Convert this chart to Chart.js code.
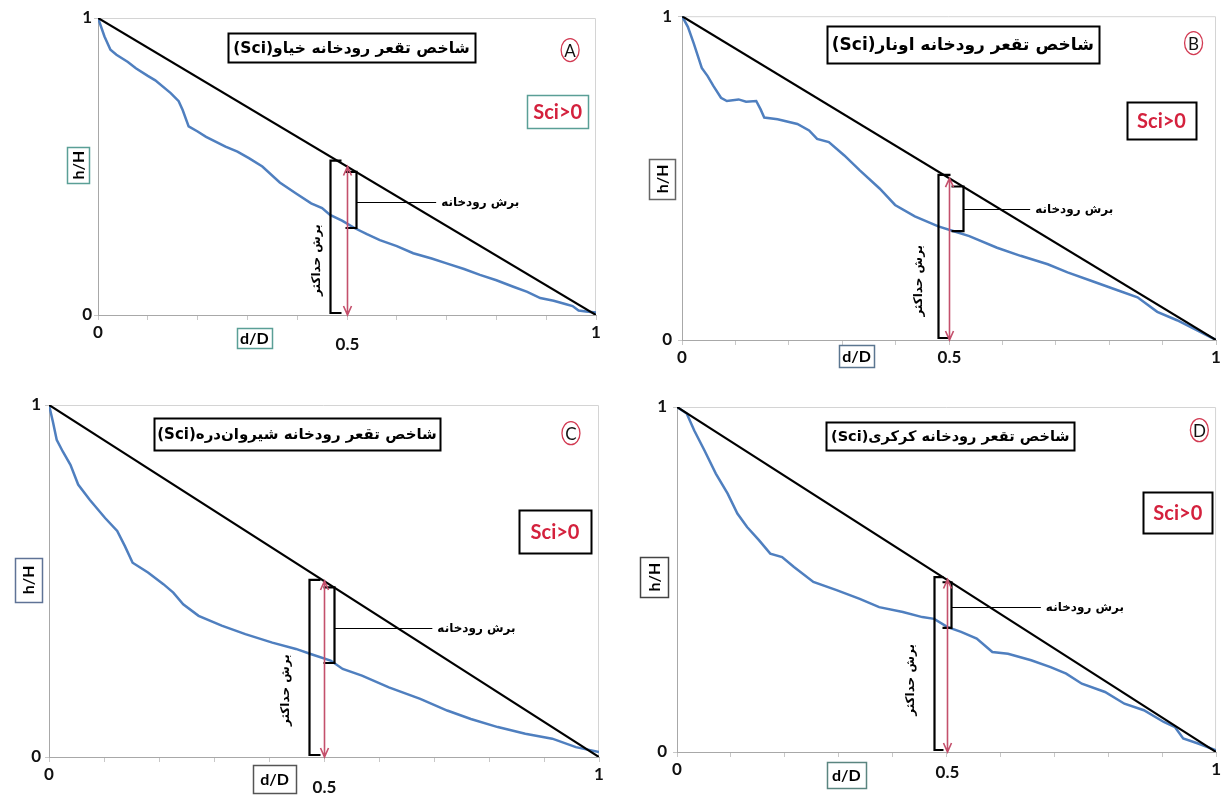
<!DOCTYPE html>
<html lang="fa">
<head>
<meta charset="UTF-8">
<title>شاخص تقعر رودخانه (Sci)</title>
<script src="https://cdn.jsdelivr.net/npm/chart.js"></script>
<style>
  html, body { margin: 0; padding: 0; background: #fff; }
  body { width: 1223px; height: 796px; position: relative; overflow: hidden; }
  .panel { position: absolute; }
</style>
</head>
<body>
<div class="panel" style="left:0;top:0"><canvas id="chartA" width="611" height="390"></canvas></div>
<div class="panel" style="left:611px;top:0"><canvas id="chartB" width="612" height="390"></canvas></div>
<div class="panel" style="left:0;top:390px"><canvas id="chartC" width="611" height="406"></canvas></div>
<div class="panel" style="left:611px;top:390px"><canvas id="chartD" width="612" height="406"></canvas></div>

<script>
// relative distance d/D and relative height h/H
const distA = [0, 0.013, 0.025, 0.037, 0.06, 0.076, 0.1, 0.115, 0.146, 0.162, 0.17, 0.182, 0.2, 0.217, 0.256, 0.28, 0.303, 0.33, 0.365, 0.397, 0.428, 0.45, 0.466, 0.49, 0.516, 0.54, 0.566, 0.6, 0.633, 0.67, 0.7, 0.735, 0.767, 0.8, 0.834, 0.862, 0.888, 0.915, 0.94, 0.953, 0.965, 0.98, 1];
const heightA = [1, 0.938, 0.893, 0.876, 0.852, 0.831, 0.805, 0.79, 0.747, 0.72, 0.69, 0.635, 0.618, 0.6, 0.567, 0.55, 0.528, 0.5, 0.446, 0.41, 0.376, 0.36, 0.337, 0.318, 0.292, 0.272, 0.252, 0.232, 0.208, 0.19, 0.174, 0.155, 0.135, 0.117, 0.095, 0.078, 0.057, 0.048, 0.036, 0.03, 0.015, 0.012, 0.008];

const distB = [0, 0.011, 0.022, 0.037, 0.048, 0.059, 0.073, 0.084, 0.106, 0.12, 0.139, 0.147, 0.154, 0.179, 0.216, 0.238, 0.253, 0.275, 0.304, 0.333, 0.37, 0.399, 0.436, 0.48, 0.509, 0.538, 0.59, 0.634, 0.685, 0.722, 0.766, 0.817, 0.853, 0.89, 0.927, 0.963, 1];
const heightB = [1, 0.967, 0.916, 0.84, 0.815, 0.784, 0.748, 0.738, 0.743, 0.736, 0.738, 0.713, 0.687, 0.682, 0.667, 0.647, 0.621, 0.611, 0.57, 0.524, 0.468, 0.417, 0.382, 0.351, 0.336, 0.321, 0.285, 0.26, 0.234, 0.209, 0.183, 0.153, 0.132, 0.087, 0.061, 0.031, 0];

const distC = [0, 0.007, 0.014, 0.025, 0.039, 0.053, 0.074, 0.102, 0.124, 0.138, 0.152, 0.18, 0.208, 0.226, 0.244, 0.272, 0.314, 0.357, 0.406, 0.449, 0.477, 0.512, 0.534, 0.569, 0.618, 0.675, 0.724, 0.767, 0.816, 0.866, 0.915, 0.958, 1];
const heightC = [1, 0.953, 0.901, 0.868, 0.83, 0.774, 0.731, 0.679, 0.642, 0.599, 0.552, 0.524, 0.491, 0.467, 0.434, 0.401, 0.373, 0.349, 0.325, 0.307, 0.292, 0.274, 0.25, 0.231, 0.198, 0.165, 0.132, 0.108, 0.085, 0.066, 0.052, 0.028, 0.014];

const distD = [0, 0.018, 0.032, 0.051, 0.072, 0.094, 0.112, 0.13, 0.152, 0.173, 0.195, 0.217, 0.253, 0.296, 0.339, 0.375, 0.419, 0.455, 0.477, 0.502, 0.527, 0.556, 0.585, 0.614, 0.657, 0.693, 0.722, 0.751, 0.794, 0.83, 0.866, 0.903, 0.924, 0.939, 0.968, 1];
const heightD = [1, 0.981, 0.932, 0.874, 0.807, 0.749, 0.691, 0.652, 0.614, 0.575, 0.565, 0.536, 0.493, 0.469, 0.444, 0.42, 0.406, 0.391, 0.386, 0.362, 0.348, 0.329, 0.29, 0.285, 0.266, 0.246, 0.227, 0.198, 0.174, 0.14, 0.121, 0.087, 0.072, 0.039, 0.024, 0.005];

// straight reference line from (0,1) to (1,0)
const diagX = [0, 1];
const diagY = [1, 0];

// tick labels
const edgeTicks = ['0', '1'];
const midLabel = '0.5';

const titles = {
  A: 'شاخص تقعر رودخانه خیاو(Sci)',
  B: 'شاخص تقعر رودخانه اونار(Sci)',
  C: 'شاخص تقعر رودخانه شیروان‌دره(Sci)',
  D: 'شاخص تقعر رودخانه کرکری(Sci)'
};
const sciLabel = 'Sci>0';
const riverCutLabel = 'برش رودخانه';
const maxCutLabel = 'برش حداکثر';

const latin = 'Lato, "Open Sans", sans-serif';
const persian = '"DejaVu Sans", "Noto Sans", sans-serif';

function boxed(ctx, cx, cy, w, h, border, lw) {
  ctx.strokeStyle = border;
  ctx.lineWidth = lw;
  ctx.strokeRect(Math.round(cx - w / 2) + 0.5, Math.round(cy - h / 2) + 0.5, Math.round(w), Math.round(h));
}

function text(ctx, str, x, y, font, color, align, rtl, rot) {
  ctx.save();
  ctx.translate(x, y);
  if (rot) ctx.rotate(rot);
  ctx.font = font;
  ctx.fillStyle = color;
  ctx.textAlign = align || 'center';
  ctx.textBaseline = 'middle';
  ctx.direction = rtl ? 'rtl' : 'ltr';
  ctx.fillText(str, 0, 0);
  ctx.restore();
}

const sciNotes = {
  id: 'sciNotes',
  beforeDatasetsDraw(chart) {
    const { ctx, chartArea: a } = chart;
    ctx.save();
    ctx.strokeStyle = '#d4d4d4';
    ctx.lineWidth = 1;
    ctx.beginPath();
    ctx.moveTo(a.left, a.top + 0.5);
    ctx.lineTo(a.right - 0.5, a.top + 0.5);
    ctx.lineTo(a.right - 0.5, a.bottom);
    ctx.stroke();
    ctx.restore();
  },
  afterDatasetsDraw(chart, args, o) {
    const { ctx, chartArea: a, scales: { x, y } } = chart;
    const px = v => x.getPixelForValue(v);
    const py = v => y.getPixelForValue(v);
    ctx.save();
    ctx.lineCap = 'butt';

    // tall bracket (maximum cut)
    const tx = Math.round(px(o.maxCut[0])) + 0.5;
    const tTop = py(o.maxCut[1]), tBot = a.bottom - 2;
    ctx.strokeStyle = '#000';
    ctx.lineWidth = 2.2;
    ctx.beginPath();
    ctx.moveTo(tx + o.serif, tTop); ctx.lineTo(tx, tTop); ctx.lineTo(tx, tBot); ctx.lineTo(tx + o.serif, tBot);
    ctx.stroke();

    // small bracket (river cut) between diagonal and curve
    const sx = Math.round(px(o.riverCut[0])) + 0.5;
    const sTop = py(1 - o.riverCut[0]), sBot = py(o.riverCut[1]);
    ctx.beginPath();
    ctx.moveTo(sx - o.serif, sTop); ctx.lineTo(sx, sTop); ctx.lineTo(sx, sBot); ctx.lineTo(sx - o.serif, sBot);
    ctx.stroke();

    // leader line and label
    const ly = Math.round(py(o.leader[1])) + 0.5;
    ctx.lineWidth = 1;
    ctx.beginPath();
    ctx.moveTo(sx, ly); ctx.lineTo(px(o.leader[0]), ly);
    ctx.stroke();
    text(ctx, riverCutLabel, px(o.leader[0]) + 5, ly, 'bold 12px ' + persian, '#000', 'left', true);

    // vertical label of max cut
    text(ctx, maxCutLabel, px(o.maxLabel[0]), py(o.maxLabel[1]), 'bold 12px ' + persian, '#000', 'center', true, -Math.PI / 2);

    // double-headed arrow at d/D = 0.5
    const ax = Math.round(px(0.5)) + 0.5, aTop = py(0.5), aBot = a.bottom;
    ctx.strokeStyle = '#c4506c';
    ctx.lineWidth = 1.6;
    ctx.beginPath();
    ctx.moveTo(ax, aTop); ctx.lineTo(ax, aBot);
    ctx.moveTo(ax - 4, aTop + 9); ctx.lineTo(ax, aTop); ctx.lineTo(ax + 4, aTop + 9);
    ctx.moveTo(ax - 4, aBot - 9); ctx.lineTo(ax, aBot); ctx.lineTo(ax + 4, aBot - 9);
    ctx.stroke();

    // 0.5 label under the axis
    text(ctx, midLabel, ax, a.bottom + o.midDy, 'bold 17px ' + latin, '#111', 'center');

    // title box
    const t = o.title;
    const tcx = px(t[0]), tcy = py(t[1]);
    let fs = 18;
    ctx.font = 'bold ' + fs + 'px ' + persian;
    while (ctx.measureText(o.titleText).width > t[2] - 6 && fs > 10) {
      fs -= 0.5;
      ctx.font = 'bold ' + fs + 'px ' + persian;
    }
    boxed(ctx, tcx, tcy, t[2], t[3], '#000', 2);
    text(ctx, o.titleText, tcx, tcy + 1, 'bold ' + fs + 'px ' + persian, '#000', 'center', true);

    // panel letter in red ellipse
    const lx = px(o.letter[0]), lyy = py(o.letter[1]);
    ctx.strokeStyle = '#d23a52';
    ctx.lineWidth = 1.3;
    ctx.beginPath();
    ctx.ellipse(lx, lyy, 9, 11.5, 0, 0, Math.PI * 2);
    ctx.stroke();
    text(ctx, o.letterText, lx, lyy + 1, '17px ' + latin, '#111', 'center');

    // Sci>0 box
    const s = o.sci;
    boxed(ctx, px(s[0]), py(s[1]), s[2], s[3], o.sciBorder, o.sciBorder === '#000' ? 2 : 1.5);
    text(ctx, sciLabel, px(s[0]), py(s[1]) + 1, 'bold 20px ' + latin, '#d4213d', 'center');

    // axis title boxes
    const hb = o.hBox;
    boxed(ctx, px(hb[0]), py(hb[1]), hb[2], hb[3], o.hBorder, 1.5);
    text(ctx, 'h/H', px(hb[0]) + 1, py(hb[1]), 'bold 16px ' + latin, '#000', 'center', false, -Math.PI / 2);
    const db = o.dBox;
    boxed(ctx, px(db[0]), py(db[1]), db[2], db[3], o.dBorder, 1.5);
    text(ctx, 'd/D', px(db[0]), py(db[1]) + 1, 'bold 16px ' + latin, '#000', 'center');

    ctx.restore();
  }
};

function makePanel(id, dist, height, lay, notes) {
  return new Chart(document.getElementById(id), {
    type: 'scatter',
    data: {
      datasets: [
        {
          data: diagX.map((v, i) => ({ x: v, y: diagY[i] })),
          showLine: true, borderColor: '#000', borderWidth: 2.2, pointRadius: 0
        },
        {
          data: dist.map((v, i) => ({ x: v, y: height[i] })),
          showLine: true, borderColor: '#4f7fbf', borderWidth: 2.5, pointRadius: 0
        }
      ]
    },
    options: {
      responsive: false,
      animation: false,
      events: [],
      layout: { padding: { top: lay.top, right: lay.right, left: 0, bottom: 0 } },
      plugins: { legend: { display: false }, tooltip: { enabled: false }, sciNotes: notes },
      scales: {
        x: {
          type: 'linear', min: 0, max: 1,
          afterFit: s => { s.height = lay.xAxisH; },
          ticks: {
            stepSize: 0.1, autoSkip: false, maxRotation: 0, padding: 2,
            color: '#111', font: { family: latin, size: 17, weight: 'bold' },
            callback: v => Math.abs(v) < 1e-6 ? edgeTicks[0] : (Math.abs(v - 1) < 1e-6 ? edgeTicks[1] : '')
          },
          grid: { drawOnChartArea: false, tickLength: 5, color: '#c8c8c8' },
          border: { color: '#a8a8a8', width: 1 }
        },
        y: {
          type: 'linear', min: 0, max: 1,
          afterFit: s => { s.width = lay.yAxisW; },
          ticks: {
            stepSize: 1, padding: lay.yPad, color: '#111',
            font: { family: latin, size: 17, weight: 'bold' },
            callback: v => v === 0 ? edgeTicks[0] : (v === 1 ? edgeTicks[1] : '')
          },
          grid: { drawOnChartArea: false, tickLength: 4, color: '#c8c8c8' },
          border: { color: '#a8a8a8', width: 1 }
        }
      }
    },
    plugins: [sciNotes]
  });
}

makePanel('chartA', distA, heightA,
  { top: 18, right: 15, xAxisH: 75, yAxisW: 98, yPad: 2 },
  { maxCut: [0.466, 0.52], riverCut: [0.518, 0.293], serif: 11, leader: [0.679, 0.38], maxLabel: [0.44, 0.185],
    midDy: 30, title: [0.509, 0.90, 247, 29], titleText: titles.A, letter: [0.948, 0.892], letterText: 'A',
    sci: [0.923, 0.685, 61, 33], sciBorder: '#5a9f96', hBox: [-0.04, 0.505, 22, 36], hBorder: '#5a9f96',
    dBox: [0.314, -0.076, 35, 20], dBorder: '#5a9f96' });

makePanel('chartB', distB, heightB,
  { top: 13, right: 7, xAxisH: 50, yAxisW: 71, yPad: 6 },
  { maxCut: [0.479, 0.51], riverCut: [0.526, 0.336], serif: 12, leader: [0.652, 0.404], maxLabel: [0.444, 0.183],
    midDy: 18, title: [0.526, 0.913, 272, 37], titleText: titles.B, letter: [0.958, 0.917], letterText: 'B',
    sci: [0.898, 0.677, 69, 37], sciBorder: '#000', hBox: [-0.037, 0.498, 26, 40], hBorder: '#666',
    dBox: [0.327, -0.049, 35, 22], dBorder: '#5b7690' });

makePanel('chartC', distC, heightC,
  { top: 15, right: 12, xAxisH: 39, yAxisW: 49, yPad: 4 },
  { maxCut: [0.472, 0.503], riverCut: [0.518, 0.267], serif: 11, leader: [0.697, 0.366], maxLabel: [0.431, 0.19],
    midDy: 31, title: [0.451, 0.918, 286, 32], titleText: titles.C, letter: [0.949, 0.92], letterText: 'C',
    sci: [0.92, 0.641, 72, 43], sciBorder: '#000', hBox: [-0.038, 0.503, 27, 44], hBorder: '#5f7396',
    dBox: [0.41, -0.0625, 43, 28], dBorder: '#555' });

makePanel('chartD', distD, heightD,
  { top: 17, right: 5, xAxisH: 44, yAxisW: 66, yPad: 6 },
  { maxCut: [0.476, 0.507], riverCut: [0.508, 0.36], serif: 9, leader: [0.675, 0.42], maxLabel: [0.433, 0.209],
    midDy: 21, title: [0.507, 0.916, 248, 28], titleText: titles.D, letter: [0.969, 0.933], letterText: 'D',
    sci: [0.929, 0.694, 69, 41], sciBorder: '#000', hBox: [-0.043, 0.507, 28, 40], hBorder: '#444',
    dBox: [0.314, -0.067, 39, 26], dBorder: '#5a8580' });
</script>
</body>
</html>
